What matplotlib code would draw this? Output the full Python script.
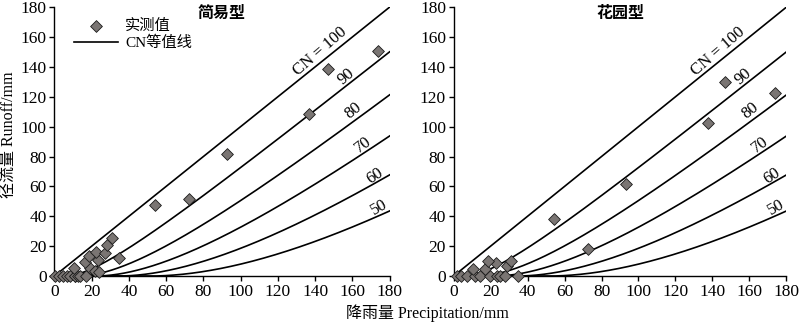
"""SCS-CN runoff curves with observed runoff for two roof types."""

import matplotlib
matplotlib.use("Agg")
import matplotlib.pyplot as plt
import numpy as np

plt.rcParams["font.family"] = ["Liberation Serif", "Noto Sans CJK SC"]

CN_VALUES = [100, 90, 80, 70, 60, 50]
CN_LABELS = ["CN = 100", "90", "80", "70", "60", "50"]
# label centre (precipitation, runoff) and rotation for each CN curve
CN_LABEL_X = [142.8, 156.8, 160.6, 166.0, 171.9, 174.6]
CN_LABEL_Y = [150.4, 133.6, 110.8, 88.0, 67.2, 45.9]
CN_LABEL_ROT = [41, 40, 39, 37, 34, 30]

PANEL_TITLES = ["简易型", "花园型"]

# observed points, simple type
SIMPLE_P = [0.4, 2.7, 4.8, 6.6, 8.4, 10.8, 11.1, 12.9, 13.8, 17.2, 10.6, 19.2,
            21.9, 23.7, 16.5, 23.4, 18.7, 22.3, 27.0, 28.4, 30.7, 34.5,
            54.0, 72.2, 92.5, 136.9, 146.7, 173.7]
SIMPLE_Q = [0.0, 0.0, 0.0, 0.0, 0.0, 0.0, 0.0, 0.0, 0.0, 0.0, 5.1, 5.2,
            3.1, 2.4, 9.5, 10.5, 13.6, 16.1, 15.6, 20.8, 25.4, 12.3,
            47.8, 51.3, 81.5, 108.5, 138.5, 150.5]

# observed points, garden type
GARDEN_P = [1.8, 4.0, 7.2, 11.6, 14.3, 19.7, 23.3, 25.0, 27.8, 34.9, 10.7,
            17.0, 22.9, 18.8, 29.0, 31.3, 54.3, 72.7, 93.1, 137.6, 146.9, 173.8]
GARDEN_Q = [0.0, 0.0, 0.0, 0.0, 0.0, 0.0, 0.0, 0.0, 0.0, 0.0, 4.9,
            4.4, 8.9, 9.8, 6.4, 9.8, 38.2, 18.2, 61.6, 102.6, 129.8, 122.7]


def scs_runoff(p, cn):
    s = 25400.0 / cn - 254.0
    ia = 0.2 * s
    return np.where(p > ia, (p - ia) ** 2 / (p + 0.8 * s), 0.0)


def draw_panel(ax, title, obs_p, obs_q, with_legend):
    p = np.linspace(0, 180, 721)
    for i, cn in enumerate(CN_VALUES):
        ax.plot(p, scs_runoff(p, cn), color="black", lw=1.2,
                label="CN等值线" if i == 0 else None, zorder=2)
        ax.text(CN_LABEL_X[i], CN_LABEL_Y[i], CN_LABELS[i], rotation=CN_LABEL_ROT[i],
                rotation_mode="anchor", ha="center", va="center", fontsize=12)
    ax.scatter(obs_p, obs_q, marker="D", s=36, facecolor="#7a7573",
               edgecolor="#1a1a1a", linewidth=0.6, label="实测值", zorder=3, clip_on=False)

    ax.set_xlim(0, 180)
    ax.set_ylim(0, 180)
    ax.set_xticks(np.arange(0, 181, 20))
    ax.set_yticks(np.arange(0, 181, 20))
    ax.tick_params(direction="out", length=3.5, width=1, labelsize=12.5, pad=2)
    for side in ("top", "right"):
        ax.spines[side].set_visible(False)
    for side in ("left", "bottom"):
        ax.spines[side].set_linewidth(1.0)
    ax.text(90, 181, title, ha="center", va="top", fontsize=11.5, fontweight="bold")

    if with_legend:
        handles, labels = ax.get_legend_handles_labels()
        order = [labels.index("实测值"), labels.index("CN等值线")]
        ax.legend([handles[k] for k in order], [labels[k] for k in order],
                  loc="upper left", bbox_to_anchor=(0.057, 0.955), frameon=False,
                  fontsize=11, handlelength=2.9, handletextpad=0.5, labelspacing=0.15,
                  borderaxespad=0.0, borderpad=0.0)


def main():
    fig = plt.figure(figsize=(8.0, 3.24), dpi=100)
    ax1 = fig.add_axes([0.068, 0.148, 0.419, 0.830])
    ax2 = fig.add_axes([0.567, 0.148, 0.416, 0.830])

    draw_panel(ax1, PANEL_TITLES[0], SIMPLE_P, SIMPLE_Q, True)
    draw_panel(ax2, PANEL_TITLES[1], GARDEN_P, GARDEN_Q, False)

    fig.text(0.012, 0.585, "径流量 Runoff/mm", rotation=90, ha="center", va="center", fontsize=11.5)
    fig.text(0.534, 0.034, "降雨量 Precipitation/mm", ha="center", va="center", fontsize=11.5)

    fig.savefig("out.png", dpi=100)
    plt.close(fig)


if __name__ == "__main__":
    main()
